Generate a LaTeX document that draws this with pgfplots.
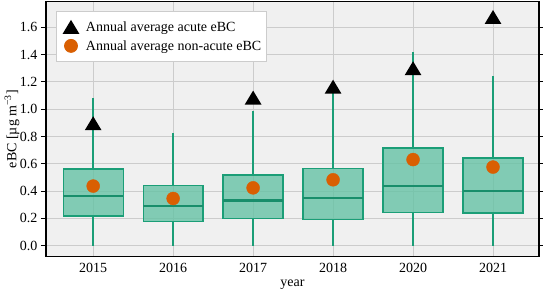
\documentclass[border=0pt]{standalone}
\usepackage{fontspec}
\setmainfont{Liberation Serif}
\usepackage{pgfplots}
\pgfplotsset{compat=1.18}
\usepgfplotslibrary{statistics}
\definecolor{bg}{HTML}{F0F0F0}
\definecolor{gridc}{HTML}{CCCCCC}
\definecolor{boxfill}{HTML}{66C2A5}
\definecolor{boxedge}{HTML}{1B9E77}
\definecolor{meanc}{HTML}{D95F02}
\pgfdeclareplotmark{mtri}{%
  \pgfpathmoveto{\pgfqpoint{0pt}{\pgfplotmarksize}}%
  \pgfpathlineto{\pgfqpoint{-1.2\pgfplotmarksize}{-\pgfplotmarksize}}%
  \pgfpathlineto{\pgfqpoint{1.2\pgfplotmarksize}{-\pgfplotmarksize}}%
  \pgfpathclose\pgfusepathqfill}
\pgfplotsset{
  bx/.style={forget plot, draw=boxedge, color=boxedge, line width=1.3pt,
    boxplot/every box/.style={draw=boxedge, fill=boxfill, fill opacity=0.8, line width=1.3pt},
    boxplot/every median/.style={draw=boxedge!90!black, line width=2.6pt},
    boxplot/every whisker/.style={draw=boxedge, line width=1.3pt}},
}
\begin{document}
\begin{tikzpicture}
\begin{axis}[
  scale only axis,
  width=493pt, height=254.7pt,
  font=\fontsize{14}{16.8}\selectfont,
  xmin=-0.59, xmax=5.575,
  ymin=-0.078, ymax=1.787,
  axis background/.style={fill=bg},
  axis line style={black, line width=1.3pt},
  xtick={0,1,2,3,4,5},
  xticklabels={2015,2016,2017,2018,2020,2021},
  ytick={0,0.2,0.4,0.6,0.8,1.0,1.2,1.4,1.6},
  yticklabel style={/pgf/number format/.cd, fixed, fixed zerofill, precision=1, assume math mode=true},
  xticklabel style={/pgf/number format/assume math mode=true, yshift=2pt},
  major x tick style={draw=none},
  major y tick style={black, line width=1pt},
  tick align=outside,
  major tick length=5pt,
  grid=major,
  major grid style={gridc, line width=1pt},
  xlabel={year},
  ylabel={eBC [µg m\textsuperscript{−3}]},
  xlabel style={at={(axis description cs:0.5,-0.112)}, anchor=center},
  ylabel style={at={(axis description cs:-0.069,0.5)}, anchor=center},
  legend cell align=left,
  legend style={at={(axis description cs:0.0197,0.9635)}, anchor=north west,
    draw=gridc, fill=white, line width=0.8pt, inner xsep=3pt, inner ysep=6.5pt,
    row sep=1pt,
    nodes={inner sep=2pt, text height=11.6pt, text depth=2.4pt}},
  legend image code/.code={\draw[#1, overlay] plot coordinates {(11.5pt,0pt)}; \path (0pt,0pt) (24pt,0pt);},
  boxplot/draw direction=y,
]
\addplot[bx, boxplot prepared={lower whisker=0, lower quartile=0.217, median=0.363, upper quartile=0.561, upper whisker=1.080, draw position=0, box extend=0.75, whisker extend=0}] coordinates {};
\addplot[bx, boxplot prepared={lower whisker=0, lower quartile=0.178, median=0.290, upper quartile=0.439, upper whisker=0.829, draw position=1, box extend=0.75, whisker extend=0}] coordinates {};
\addplot[bx, boxplot prepared={lower whisker=0, lower quartile=0.200, median=0.331, upper quartile=0.517, upper whisker=0.988, draw position=2, box extend=0.75, whisker extend=0}] coordinates {};
\addplot[bx, boxplot prepared={lower whisker=0, lower quartile=0.190, median=0.351, upper quartile=0.568, upper whisker=1.121, draw position=3, box extend=0.75, whisker extend=0}] coordinates {};
\addplot[bx, boxplot prepared={lower whisker=0, lower quartile=0.244, median=0.437, upper quartile=0.715, upper whisker=1.417, draw position=4, box extend=0.75, whisker extend=0}] coordinates {};
\addplot[bx, boxplot prepared={lower whisker=0, lower quartile=0.239, median=0.402, upper quartile=0.642, upper whisker=1.241, draw position=5, box extend=0.75, whisker extend=0}] coordinates {};
% whiskers of 2015 (lower: 0 to Q1, upper: Q3 to max)
\addplot[forget plot, boxedge, line width=1.5pt, unbounded coords=jump] coordinates {
(0,0) (0,0.217) (0,nan) (0,0.561) (0,1.080)};
\addplot[only marks, mark=mtri, mark size=7pt, color=black, fill=black] coordinates {
(0,0.897) (2,1.085) (3,1.165) (4,1.300) (5,1.675)};
\addlegendentry{Annual average acute eBC}
\addplot[only marks, mark=*, mark size=6.5pt, color=meanc, fill=meanc] coordinates {
(0,0.437) (1,0.346) (2,0.424) (3,0.483) (4,0.631) (5,0.576)};
\addlegendentry{Annual average non-acute eBC}
\end{axis}
\pgfresetboundingbox
\path ([shift={(-46pt,-35.3pt)}]current axis.south west) rectangle ([shift={(4pt,1.7pt)}]current axis.north east);
\end{tikzpicture}
\end{document}
